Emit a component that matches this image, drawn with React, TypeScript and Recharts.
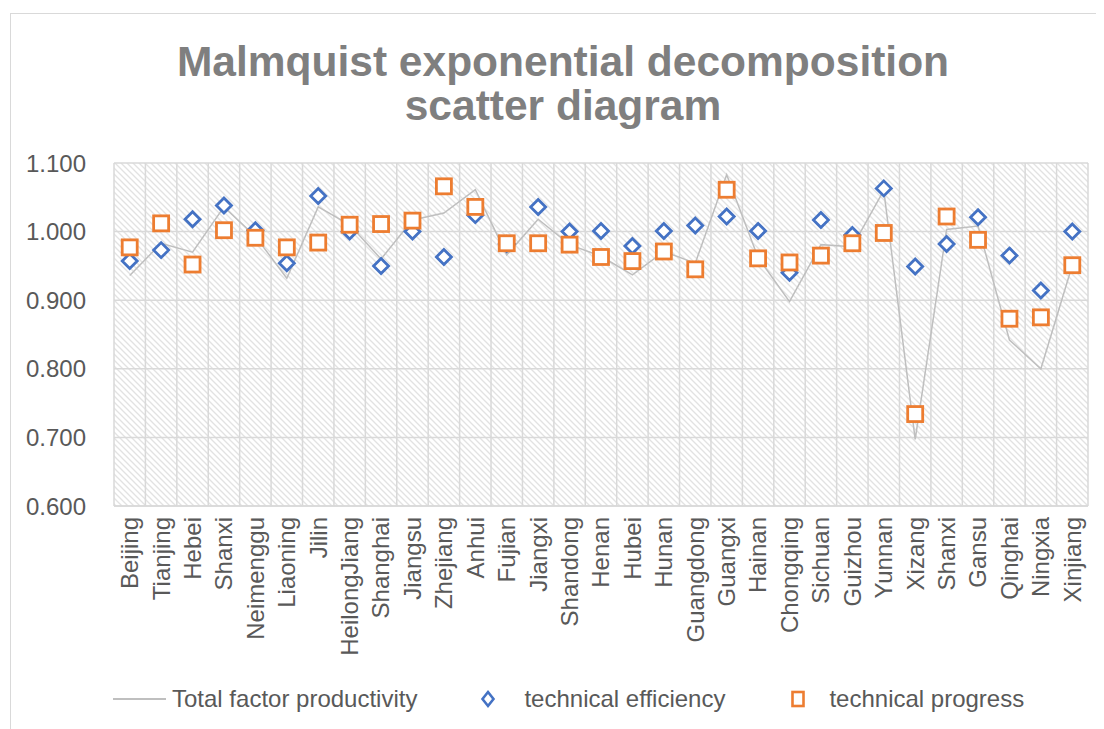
import React from "react";
import { CartesianGrid, ComposedChart, Legend, Line, XAxis, YAxis } from "recharts";

// Malmquist index by province
const provinces = [
    "Beijing", "Tianjing", "Hebei", "Shanxi", "Neimenggu", "Liaoning", "Jilin", "HeilongJiang",
    "Shanghai", "Jiangsu", "Zhejiang", "Anhui", "Fujian", "Jiangxi", "Shandong", "Henan",
    "Hubei", "Hunan", "Guangdong", "Guangxi", "Hainan", "Chongqing", "Sichuan", "Guizhou",
    "Yunnan", "Xizang", "Shanxi", "Gansu", "Qinghai", "Ningxia", "Xinjiang",
];

const totalFactorProductivity = [
    0.936, 0.983, 0.970, 1.036, 0.993, 0.932, 1.036, 1.010,
    0.960, 1.017, 1.027, 1.061, 0.966, 1.018, 0.981, 0.964,
    0.937, 0.971, 0.954, 1.083, 0.962, 0.898, 0.981, 0.978,
    1.060, 0.697, 1.003, 1.008, 0.842, 0.800, 0.951,
];

const technicalEfficiency = [
    0.957, 0.973, 1.018, 1.038, 1.002, 0.954, 1.052, 1.000,
    0.950, 1.000, 0.963, 1.024, 0.982, 1.036, 1.000, 1.001,
    0.979, 1.001, 1.009, 1.022, 1.001, 0.940, 1.017, 0.995,
    1.063, 0.949, 0.982, 1.021, 0.965, 0.914, 1.000,
];

const technicalProgress = [
    0.977, 1.012, 0.952, 1.002, 0.991, 0.977, 0.984, 1.010,
    1.011, 1.016, 1.066, 1.036, 0.983, 0.983, 0.981, 0.963,
    0.957, 0.971, 0.945, 1.061, 0.961, 0.955, 0.965, 0.983,
    0.998, 0.734, 1.022, 0.988, 0.873, 0.875, 0.951,
];

const yTicks = [0.6, 0.7, 0.8, 0.9, 1.0, 1.1];

const chartData = provinces.map((name, i) => ({
    name,
    tfp: totalFactorProductivity[i],
    te: technicalEfficiency[i],
    tp: technicalProgress[i],
}));

const BLUE = "#4472C4";
const ORANGE = "#ED7D31";
const TEXT = "#595959";
const GRID = "#D9D9D9";

const CHART_W = 1096;
const CHART_H = 721;
const Y_AXIS_W = 106;
const MARGIN = { top: 155, right: 16, bottom: 10, left: 0 };
// half a category slot on each side, like Excel's "between tick marks"
const halfSlot = (CHART_W - Y_AXIS_W - MARGIN.right - MARGIN.left) / provinces.length / 2;

function DiamondDot(props: any) {
    const { cx, cy } = props;
    if (cx == null || cy == null) return null;
    const r = 7.5;
    return (
        <path
            d={`M${cx},${cy - r}L${cx + r},${cy}L${cx},${cy + r}L${cx - r},${cy}Z`}
            fill="#fff"
            stroke={BLUE}
            strokeWidth={2.8}
        />
    );
}

function SquareDot(props: any) {
    const { cx, cy } = props;
    if (cx == null || cy == null) return null;
    const h = 7.5;
    return <rect x={cx - h} y={cy - h} width={h * 2} height={h * 2} fill="#fff" stroke={ORANGE} strokeWidth={2.8} />;
}

function ProvinceTick(props: any) {
    const { x, y, payload } = props;
    const ty = y + 3;
    return (
        <text x={x} y={ty} dy="0.35em" transform={`rotate(-90, ${x}, ${ty})`} textAnchor="end" fontSize={24} fill={TEXT}>
            {payload.value}
        </text>
    );
}

function LegendBox() {
    return (
        <div style={{ height: 40, display: "flex", alignItems: "center", paddingLeft: 105, fontSize: 24, color: TEXT }}>
            <svg width={53} height={10}>
                <line x1={0} y1={5} x2={53} y2={5} stroke="#BFBFBF" strokeWidth={2} />
            </svg>
            <span style={{ marginLeft: 6 }}>Total factor productivity</span>
            <svg width={18} height={20} style={{ marginLeft: 62 }}>
                <path d="M9,3L14.5,10L9,17L3.5,10Z" fill="#fff" stroke={BLUE} strokeWidth={2.6} />
            </svg>
            <span style={{ marginLeft: 27 }}>technical efficiency</span>
            <svg width={18} height={20} style={{ marginLeft: 64 }}>
                <rect x={3.5} y={3} width={11} height={14} fill="#fff" stroke={ORANGE} strokeWidth={2.6} />
            </svg>
            <span style={{ marginLeft: 22 }}>technical progress</span>
        </div>
    );
}

export default function App() {
    const categoryLines = ({ offset }: any) =>
        provinces.map((_, i) => offset.left + (i * offset.width) / provinces.length).concat(offset.left + offset.width);

    return (
        <div style={{ position: "relative", width: CHART_W, height: CHART_H, fontFamily: "'Liberation Sans', Arial, sans-serif", background: "#fff" }}>
            <div style={{ position: "absolute", left: 2, top: 5, right: 0, bottom: 0, borderLeft: `1.5px solid ${GRID}`, borderTop: `1.5px solid ${GRID}` }} />
            <div
                style={{
                    position: "absolute",
                    left: 7,
                    top: 32,
                    width: CHART_W,
                    textAlign: "center",
                    fontSize: 42.5,
                    lineHeight: "44px",
                    fontWeight: "bold",
                    color: "#7F7F7F",
                }}
            >
                Malmquist exponential decomposition
                <br />
                scatter diagram
            </div>
            <ComposedChart width={CHART_W} height={CHART_H} data={chartData} margin={MARGIN}>
                <defs>
                    <pattern id="hatch" patternUnits="userSpaceOnUse" width={6} height={6}>
                        <rect width={6} height={6} fill="#fff" />
                        <path d="M-1,-1L7,7M-1,5L1,7M5,-1L7,1" stroke="#E2E2E2" strokeWidth={1.3} />
                    </pattern>
                </defs>
                <CartesianGrid
                    stroke={GRID}
                    strokeWidth={1.5}
                    fill="url(#hatch)"
                    fillOpacity={1}
                    verticalCoordinatesGenerator={categoryLines}
                />
                <XAxis
                    dataKey="name"
                    interval={0}
                    height={173}
                    padding={{ left: halfSlot, right: halfSlot }}
                    tickLine={false}
                    axisLine={{ stroke: GRID, strokeWidth: 1.5 }}
                    tick={<ProvinceTick />}
                />
                <YAxis
                    domain={[0.6, 1.1]}
                    ticks={yTicks}
                    interval={0}
                    width={Y_AXIS_W}
                    tickMargin={22}
                    axisLine={false}
                    tickLine={false}
                    tickFormatter={(v: number) => v.toFixed(3)}
                    tick={{ fontSize: 24, fill: TEXT }}
                />
                <Line type="linear" dataKey="tfp" stroke="#BFBFBF" strokeWidth={1.5} dot={false} activeDot={false} isAnimationActive={false} />
                <Line dataKey="te" stroke="none" dot={<DiamondDot />} activeDot={false} isAnimationActive={false} />
                <Line dataKey="tp" stroke="none" dot={<SquareDot />} activeDot={false} isAnimationActive={false} />
                <Legend verticalAlign="bottom" content={() => <LegendBox />} />
            </ComposedChart>
        </div>
    );
}
